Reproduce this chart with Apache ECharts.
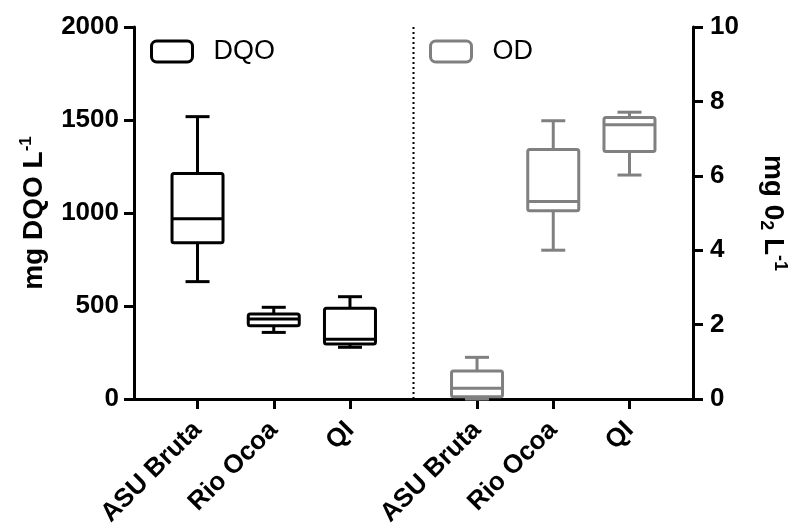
<!DOCTYPE html>
<html>
<head>
<meta charset="utf-8">
<script src="https://cdn.jsdelivr.net/npm/echarts@6/dist/echarts.min.js"></script>
<style>html,body{margin:0;padding:0;background:#fff;}#c{width:796px;height:530px;}</style>
</head>
<body>
<div id="c"></div>
<script>
// ---- data ----
const categories = ['ASU Bruta', 'Rio Ocoa', 'QI'];
const dqoMin = [631, 358, 278];
const dqoQ1 = [840, 394, 296];
const dqoMedian = [969, 430, 321];
const dqoQ3 = [1213, 457, 488];
const dqoMax = [1518, 493, 550];
const odMin = [0, 4.0, 6.02];
const odQ1 = [0.06, 5.06, 6.65];
const odMedian = [0.29, 5.31, 7.37];
const odQ3 = [0.75, 6.71, 7.57];
const odMax = [1.12, 7.48, 7.71];
const leftTicks = { min: 0, max: 2000, interval: 500 };
const rightTicks = { min: 0, max: 10, interval: 2 };

// ---- layout (slot indices on a 22-slot category axis) ----
const SLOTS = 22;
const dqoSlots = [2, 5, 8];
const odSlots = [13, 16, 19];
const dividerPos = 11;
const slotNames = Array.from({length: SLOTS}, (_, i) => String(i));
const labelOf = {};
dqoSlots.forEach((s, i) => labelOf[s] = categories[i]);
odSlots.forEach((s, i) => labelOf[s] = categories[i]);

function build(slots, mn, q1, md, q3, mx) {
  return slots.map((s, i) => [s, mn[i], q1[i], md[i], q3[i], mx[i]]);
}
const FONT = "'Liberation Sans', Arial, sans-serif";

function boxRender(color) {
  return function (params, api) {
    const x = api.value(0);
    const p = [1, 2, 3, 4, 5].map(d => api.coord([x, api.value(d)]));
    const cx = p[0][0];
    const bw = 51, cw = 24;
    const st = { stroke: color, lineWidth: 3, fill: null, lineJoin: 'round', lineCap: 'butt' };
    const children = [
      { type: 'line', shape: { x1: cx, y1: p[4][1], x2: cx, y2: p[3][1] }, style: st },
      { type: 'line', shape: { x1: cx, y1: p[0][1], x2: cx, y2: p[1][1] }, style: st },
      { type: 'line', shape: { x1: cx - cw / 2, y1: p[4][1], x2: cx + cw / 2, y2: p[4][1] }, style: st },
      { type: 'line', shape: { x1: cx - cw / 2, y1: p[0][1], x2: cx + cw / 2, y2: p[0][1] }, style: st },
      { type: 'rect', shape: { x: cx - bw / 2, y: p[3][1], width: bw, height: p[1][1] - p[3][1], r: 2 }, style: Object.assign({}, st, { fill: '#fff' }) },
      { type: 'line', shape: { x1: cx - bw / 2, y1: p[2][1], x2: cx + bw / 2, y2: p[2][1] }, style: st }
    ];
    return { type: 'group', children: children };
  };
}

const axisLabelStyle = { color: '#000', fontFamily: FONT, fontWeight: 'bold', fontSize: 26 };

const option = {
  backgroundColor: '#fff',
  animation: false,
  grid: { left: 134, right: 103, top: 27, bottom: 131, containLabel: false, outerBoundsMode: 'none' },
  legend: [
    {
      left: 150, top: 38, padding: 0, icon: 'roundRect', itemWidth: 41, itemHeight: 21,
      data: [{ name: 'DQO', itemStyle: { color: '#fff', borderColor: '#000', borderWidth: 3 } }],
      textStyle: { color: '#000', fontFamily: FONT, fontSize: 27, padding: [0, 0, 0, 16] }
    },
    {
      left: 429, top: 38, padding: 0, icon: 'roundRect', itemWidth: 41, itemHeight: 21,
      data: [{ name: 'OD', itemStyle: { color: '#fff', borderColor: '#808080', borderWidth: 3 } }],
      textStyle: { color: '#000', fontFamily: FONT, fontSize: 27, padding: [0, 0, 0, 16] }
    }
  ],
  xAxis: [
    {
      type: 'category',
      data: slotNames,
      boundaryGap: true,
      axisLine: { show: true, lineStyle: { color: '#000', width: 3 } },
      axisTick: {
        show: true, alignWithLabel: true, length: 10, lineStyle: { color: '#000', width: 3 },
        interval: (i) => labelOf[i] !== undefined
      },
      axisLabel: Object.assign({
        interval: 0, rotate: 45, margin: 27,
        formatter: (v, i) => labelOf[i] || ''
      }, axisLabelStyle),
      splitLine: { show: false }
    },
    {
      type: 'value', min: 0, max: SLOTS, show: false
    }
  ],
  yAxis: [
    {
      type: 'value', position: 'left',
      min: leftTicks.min, max: leftTicks.max, interval: leftTicks.interval,
      name: '{a|mg DQO L}{s|-1}', nameLocation: 'middle', nameGap: 84,
      nameTextStyle: {
        rich: {
          a: { fontFamily: FONT, fontWeight: 'bold', fontSize: 28, color: '#000', lineHeight: 32 },
          s: { fontFamily: FONT, fontWeight: 'bold', fontSize: 17, color: '#000', verticalAlign: 'top', lineHeight: 16 }
        }
      },
      axisLine: { show: true, lineStyle: { color: '#000', width: 3 } },
      axisTick: { show: true, length: 10, lineStyle: { color: '#000', width: 3 } },
      axisLabel: Object.assign({ margin: 15, formatter: (v) => String(v) }, axisLabelStyle),
      splitLine: { show: false }
    },
    {
      type: 'value', position: 'right',
      min: rightTicks.min, max: rightTicks.max, interval: rightTicks.interval,
      name: '{a|mg 0}{b|2}{a| L}{s|-1}', nameLocation: 'middle', nameGap: 64, nameRotate: -90,
      nameTextStyle: {
        rich: {
          a: { fontFamily: FONT, fontWeight: 'bold', fontSize: 28, color: '#000', lineHeight: 32 },
          b: { fontFamily: FONT, fontWeight: 'bold', fontSize: 18, color: '#000', verticalAlign: 'bottom', lineHeight: 16 },
          s: { fontFamily: FONT, fontWeight: 'bold', fontSize: 18, color: '#000', verticalAlign: 'top', lineHeight: 16 }
        }
      },
      axisLine: { show: true, lineStyle: { color: '#000', width: 3 } },
      axisTick: { show: true, length: 10, lineStyle: { color: '#000', width: 3 } },
      axisLabel: Object.assign({ margin: 17, formatter: (v) => String(v) }, axisLabelStyle),
      splitLine: { show: false }
    }
  ],
  series: [
    {
      name: 'divider', type: 'line', xAxisIndex: 1, yAxisIndex: 0,
      symbol: 'none', silent: true, z: 1,
      lineStyle: { color: '#000', width: 2, type: [2, 3] },
      data: [[dividerPos, leftTicks.min], [dividerPos, leftTicks.max]]
    },
    {
      name: 'DQO', type: 'custom', xAxisIndex: 0, yAxisIndex: 0,
      itemStyle: { color: '#000' },
      encode: { x: 0, y: [1, 2, 3, 4, 5] },
      renderItem: boxRender('#000'),
      data: build(dqoSlots, dqoMin, dqoQ1, dqoMedian, dqoQ3, dqoMax)
    },
    {
      name: 'OD', type: 'custom', xAxisIndex: 0, yAxisIndex: 1,
      itemStyle: { color: '#808080' },
      encode: { x: 0, y: [1, 2, 3, 4, 5] },
      renderItem: boxRender('#808080'),
      data: build(odSlots, odMin, odQ1, odMedian, odQ3, odMax)
    }
  ]
};
const chart = echarts.init(document.getElementById('c'), null, { renderer: 'canvas' });
chart.setOption(option);
</script>
</body>
</html>
